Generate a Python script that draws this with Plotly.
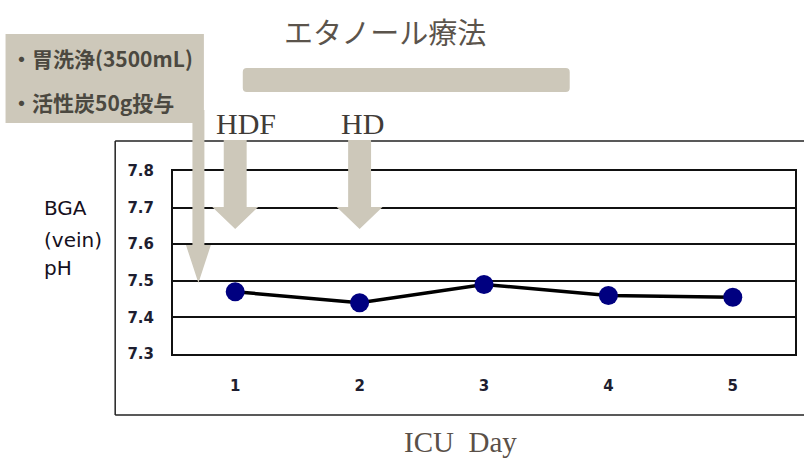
import plotly.graph_objects as go

# ---- data ----
days = [1, 2, 3, 4, 5]
ph_values = [7.47, 7.44, 7.49, 7.46, 7.455]
y_ticks = [7.3, 7.4, 7.5, 7.6, 7.7, 7.8]
y_tick_labels = ["7.3", "7.4", "7.5", "7.6", "7.7", "7.8"]
events = ["HDF", "HD"]
event_days = [1, 2]
title_text = "エタノール療法"
box_lines = ["・胃洗浄(3500mL)", "・活性炭50g投与"]
y_title_lines = ["BGA", "(vein)", "pH"]
x_title = "ICU\u00a0\u00a0Day"

# ---- layout geometry (pixels) ----
W, H = 804, 460
L, R, T, B = 173, 797, 171, 354
SLOT = (R - L) / len(days)


def px(x):
    return (x - L) / (R - L)


def py(y):
    return (B - y) / (B - T)


BEIGE = "#cdc8ba"

fig = go.Figure()
fig.add_trace(go.Scatter(
    x=days, y=ph_values, mode="lines+markers",
    line=dict(color="black", width=3.5),
    marker=dict(color="#000080", size=19),
    showlegend=False, hoverinfo="skip",
))

shapes = []
# outer chart-area frame (open to the right)
for (x0, y0, x1, y1) in [(115, 141, 820, 141), (115, 141, 115, 415), (115, 415, 820, 415)]:
    shapes.append(dict(type="line", xref="paper", yref="paper",
                       x0=px(x0), y0=py(y0), x1=px(x1), y1=py(y1),
                       line=dict(color="#222222", width=1.5), layer="below"))

# rounded bar under title
bx0, by0, bx1, by1, r = 243, 68, 571, 92, 4
path = (f"M {px(bx0+r)},{py(by0)} L {px(bx1-r)},{py(by0)} "
        f"Q {px(bx1)},{py(by0)} {px(bx1)},{py(by0+r)} L {px(bx1)},{py(by1-r)} "
        f"Q {px(bx1)},{py(by1)} {px(bx1-r)},{py(by1)} L {px(bx0+r)},{py(by1)} "
        f"Q {px(bx0)},{py(by1)} {px(bx0)},{py(by1-r)} L {px(bx0)},{py(by0+r)} "
        f"Q {px(bx0)},{py(by0)} {px(bx0+r)},{py(by0)} Z")
shapes.append(dict(type="path", xref="paper", yref="paper", path=path,
                   fillcolor=BEIGE, line=dict(width=0), layer="above"))

# note box
shapes.append(dict(type="rect", xref="paper", yref="paper",
                   x0=px(5), y0=py(34), x1=px(204), y1=py(123),
                   fillcolor=BEIGE, line=dict(width=0), layer="above"))

# long arrow from the note box
cx = 198.5
pts = [(cx - 6, 110), (cx + 6, 110), (cx + 6, 245), (cx + 12.5, 245), (cx, 283),
       (cx - 12.5, 245), (cx - 6, 245)]
path = "M " + " L ".join(f"{px(a)},{py(b)}" for a, b in pts) + " Z"
shapes.append(dict(type="path", xref="paper", yref="paper", path=path,
                   fillcolor=BEIGE, line=dict(width=0), layer="above"))

# HDF / HD arrows at their day
annotations = []
for name, d in zip(events, event_days):
    sw, hw = 11.5 / SLOT, 23 / SLOT
    pts = [(d - sw, 140), (d + sw, 140), (d + sw, 207), (d + hw, 207), (d, 229),
           (d - hw, 207), (d - sw, 207)]
    path = "M " + " L ".join(f"{a},{py(b)}" for a, b in pts) + " Z"
    shapes.append(dict(type="path", xref="x", yref="paper", path=path,
                       fillcolor=BEIGE, line=dict(width=0), layer="above"))
    annotations.append(dict(x=d - 21 / SLOT, y=py(124), xref="x", yref="paper", text=name,
                            showarrow=False, xanchor="left", yanchor="middle",
                            font=dict(family="Liberation Serif", size=30, color="#403b37")))

annotations.append(dict(x=px(386), y=py(31), xref="paper", yref="paper", text=title_text,
                        showarrow=False, xanchor="center", yanchor="middle",
                        font=dict(family="Noto Sans CJK JP", size=29, color="#5b544c")))
for t, yy in zip(box_lines, [58, 102]):
    annotations.append(dict(x=px(8), y=py(yy), xref="paper", yref="paper", text=t,
                            showarrow=False, xanchor="left", yanchor="middle",
                            font=dict(family="Noto Sans CJK JP", size=21, color="#4b4840",
                                      weight="bold")))
for t, yy in zip(y_title_lines, [208, 240, 268]):
    annotations.append(dict(x=px(42), y=py(yy), xref="paper", yref="paper", text=t,
                            showarrow=False, xanchor="left", yanchor="middle",
                            font=dict(family="DejaVu Sans", size=20, color="#151020")))
annotations.append(dict(x=px(461), y=py(442), xref="paper", yref="paper", text=x_title,
                        showarrow=False, xanchor="center", yanchor="middle",
                        font=dict(family="Liberation Serif", size=29, color="#5a5048")))

fig.update_layout(
    width=W, height=H,
    margin=dict(l=L, r=W - R, t=T, b=H - B, pad=0),
    paper_bgcolor="white", plot_bgcolor="white",
    shapes=shapes, annotations=annotations,
    xaxis=dict(range=[0.5, 5.5], tickvals=days, ticktext=[str(d) for d in days],
               showgrid=False, zeroline=False, showline=True, mirror=True,
               linecolor="#111111", linewidth=2, ticks="",
               ticklabelstandoff=17,
               tickfont=dict(family="DejaVu Sans", size=15, color="#1e1e30", weight="bold")),
    yaxis=dict(range=[7.3, 7.8], tickvals=y_ticks, ticktext=y_tick_labels,
               showgrid=True, gridcolor="#111111", gridwidth=2, zeroline=False,
               showline=True, mirror=True, linecolor="#111111", linewidth=2, ticks="",
               ticklabelstandoff=14,
               tickfont=dict(family="DejaVu Sans", size=15, color="#1e1e30", weight="bold")),
)

fig.write_html("out.html")
